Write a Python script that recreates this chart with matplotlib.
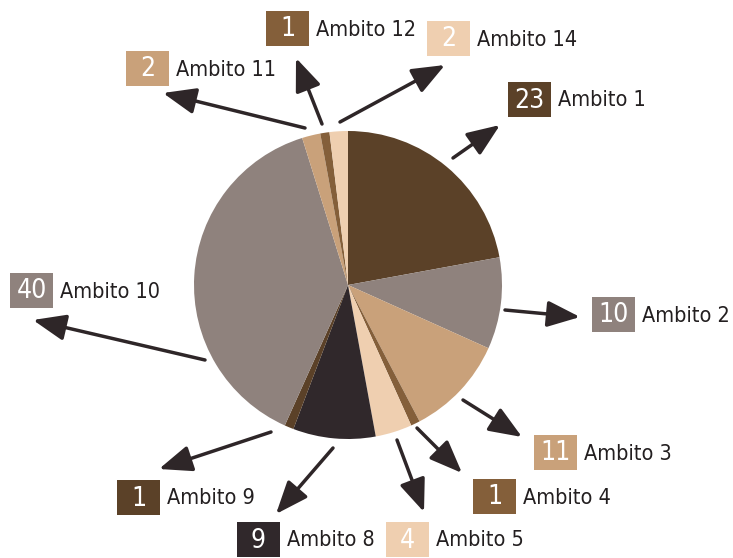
import matplotlib.pyplot as plt
from matplotlib.patches import Rectangle

# data, clockwise from 12 o'clock
labels = ["Ambito 1", "Ambito 2", "Ambito 3", "Ambito 4", "Ambito 5", "Ambito 8",
          "Ambito 9", "Ambito 10", "Ambito 11", "Ambito 12", "Ambito 14"]
values = [23, 10, 11, 1, 4, 9, 1, 40, 2, 1, 2]
colors = ["#5b4128", "#8f827d", "#c9a17a", "#845f3a", "#efcfb0", "#30282b",
          "#5b4128", "#8f827d", "#c9a17a", "#845f3a", "#efcfb0"]

# layout in pixels: arrow start, arrow tip, label box (left, top)
arrow_from = [(453, 158), (505, 310), (463, 400), (417, 428), (397, 440), (333, 448),
              (271, 432), (205, 360), (305, 128), (322, 124), (340, 122)]
arrow_to = [(500, 125), (580, 317), (522, 437), (462, 473), (424, 512), (276, 514),
            (159, 469), (33, 320), (163, 93), (296, 58), (445, 65)]
box_pos = [(508, 82), (592, 297), (534, 435), (473, 479), (386, 522), (237, 522),
           (117, 480), (10, 273), (126, 51), (266, 11), (427, 21)]

BOX_W, BOX_H = 43, 35
DARK = "#2e2628"

fig = plt.figure(figsize=(7.33, 5.58), dpi=100)
ax = fig.add_axes([0, 0, 1, 1])

ax.pie(values, colors=colors, center=(348, 285), radius=154, startangle=-90,
       counterclock=True, wedgeprops=dict(linewidth=0), frame=True)
ax.set_xlim(0, 733)
ax.set_ylim(558, 0)
ax.set_aspect("equal")
ax.axis("off")

for lab, v, c, a0, a1, (bx, by) in zip(labels, values, colors, arrow_from, arrow_to, box_pos):
    ax.annotate("", xy=a1, xytext=a0,
                arrowprops=dict(arrowstyle="-|>,head_length=1.0,head_width=0.4", color=DARK,
                                lw=2.5, mutation_scale=20, shrinkA=0, shrinkB=0))
    ax.add_patch(Rectangle((bx, by), BOX_W, BOX_H, facecolor=c, edgecolor="none"))
    ax.text(bx + BOX_W / 2, by + BOX_H / 2 + 1, str(v), color="white", fontsize=19,
            ha="center", va="center", fontstretch="condensed")
    ax.text(bx + BOX_W + 7, by + BOX_H / 2 + 1, lab, color="#231f20", fontsize=15.5,
            ha="left", va="center", fontstretch="condensed")

fig.savefig("out.png", dpi=100)
